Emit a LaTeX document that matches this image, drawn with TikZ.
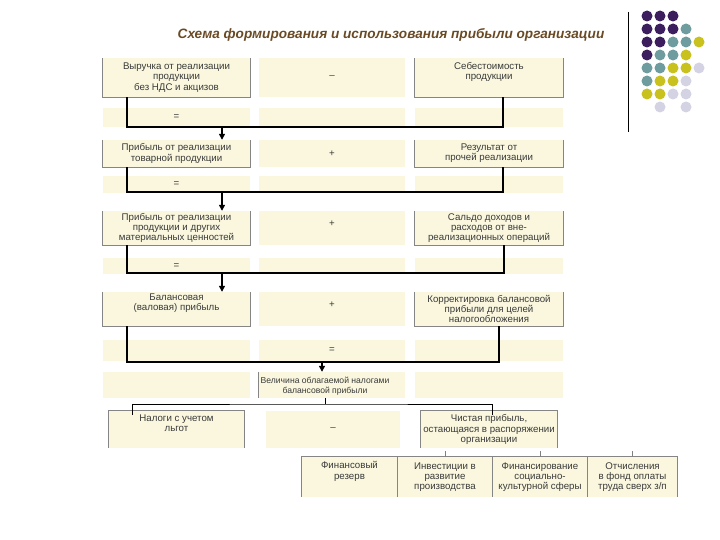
\documentclass[tikz,border=0pt]{standalone}
\usepackage{fontspec}
\setmainfont{Liberation Sans}
\usetikzlibrary{arrows.meta,calc}
\definecolor{cream}{HTML}{FAF7DE}
\definecolor{txtgray}{HTML}{3A3A3A}
\definecolor{edgegray}{HTML}{858585}
\definecolor{titlebrown}{HTML}{6A4A24}
\definecolor{dpurp}{HTML}{3C1E5F}
\definecolor{teal}{HTML}{6F9C9E}
\definecolor{olive}{HTML}{C9C21E}
\definecolor{lav}{HTML}{D3D3E3}

\begin{document}
\begin{tikzpicture}[x=1pt,y=-1pt,>=Stealth,
  cell/.style={fill=cream,inner sep=1pt,align=center,text=txtgray,
    font=\fontsize{9.7}{10.2}\selectfont},
  band/.style={cell,minimum height=#1},
  edge/.style={edgegray,line width=0.8pt},
  conn/.style={black,line width=1.3pt},
  arr/.style={conn,-{Triangle[length=6pt,width=6pt]}},
  thinconn/.style={black,line width=0.9pt},
  tick/.style={gray,line width=0.6pt}]
  \useasboundingbox (0,0) rectangle (720,540);

  % title and corner decoration
  \node[text=titlebrown,font=\fontsize{13.6}{15}\selectfont\bfseries\itshape]
    (ttl) at (391,35) {Схема формирования и использования прибыли организации};
  \draw[line width=1pt] (628,12) -- (628,132);
  \foreach \col/\row/\clr in {1/1/dpurp,2/1/dpurp,3/1/dpurp,
      1/2/dpurp,2/2/dpurp,3/2/dpurp,4/2/teal,
      1/3/dpurp,2/3/dpurp,3/3/teal,4/3/teal,5/3/olive,
      1/4/dpurp,2/4/teal,3/4/teal,4/4/olive,
      1/5/teal,2/5/teal,3/5/olive,4/5/olive,5/5/lav,
      1/6/teal,2/6/olive,3/6/olive,4/6/lav,
      1/7/olive,2/7/olive,3/7/lav,4/7/lav,
      2/8/lav,4/8/lav}
    \fill[\clr] (634+13*\col,3+13*\row) circle (5.5);

  % row 1
  \node[cell,minimum width=147,minimum height=39] (r1a) at (176.5,77.5)
    {Выручка от реализации\\продукции\\без НДС и акцизов};
  \node[cell,minimum width=146,minimum height=39] (r1b) at (332,77.5) {–};
  \node[cell,minimum width=148,minimum height=39] (r1c) at (489,77.5)
    {Себестоимость\\продукции\\\strut};
  \node[band=19,minimum width=147] (e1a) at (176.5,117.5) {=};
  \node[band=19,minimum width=146] (e1b) at (332,117.5) {};
  \node[band=19,minimum width=148] (e1c) at (489,117.5) {};

  % row 2
  \node[cell,minimum width=147,minimum height=27] (r2a) at (176.5,153.5)
    {Прибыль от реализации\\товарной продукции};
  \node[cell,minimum width=146,minimum height=27] (r2b) at (332,153.5) {+};
  \node[cell,minimum width=148,minimum height=27] (r2c) at (489,153.5)
    {Результат от\\прочей реализации};
  \node[band=17,minimum width=147] (e2a) at (176.5,184.5) {=};
  \node[band=17,minimum width=146] (e2b) at (332,184.5) {};
  \node[band=17,minimum width=148] (e2c) at (489,184.5) {};

  % row 3
  \node[cell,minimum width=147,minimum height=34] (r3a) at (176.5,228)
    {Прибыль от реализации\\продукции и других\\материальных ценностей};
  \node[cell,minimum width=146,minimum height=34] (r3b) at (332,228)
    {\raisebox{8pt}{+}};
  \node[cell,minimum width=148,minimum height=34] (r3c) at (489,228)
    {Сальдо доходов и\\расходов от вне-\\реализационных операций};
  \node[band=16,minimum width=147] (e3a) at (176.5,266) {=};
  \node[band=16,minimum width=146] (e3b) at (332,266) {};
  \node[band=16,minimum width=148] (e3c) at (489,266) {};

  % row 4
  \node[cell,minimum width=147,minimum height=34] (r4a) at (176.5,309)
    {Балансовая\\(валовая) прибыль\\\strut};
  \node[cell,minimum width=146,minimum height=34] (r4b) at (332,309)
    {\raisebox{8pt}{+}};
  \node[cell,minimum width=148,minimum height=34] (r4c) at (489,309)
    {Корректировка балансовой\\прибыли для целей\\налогообложения};
  \node[band=21,minimum width=147] (e4a) at (176.5,350.5) {};
  \node[band=21,minimum width=146] (e4b) at (332,350.5) {=};
  \node[band=21,minimum width=148] (e4c) at (489,350.5) {};

  % row 5
  \node[band=26,minimum width=147] (e5a) at (176.5,385) {};
  \node[band=26,minimum width=146] (e5b) at (332,385) {};
  \node[band=26,minimum width=148] (e5c) at (489,385) {};
  \node[cell,fill=none,font=\fontsize{8.6}{10.2}\selectfont] (r5b) at (325,386)
    {Величина облагаемой налогами\\балансовой прибыли};
  \draw[edge] (e5b.north west) -- (e5b.south west);

  % row 6
  \node[cell,minimum width=135,minimum height=37] (r6a) at (176.5,429.5)
    {Налоги с учетом\\льгот\\\strut};
  \node[cell,minimum width=134,minimum height=37] (r6b) at (333,429.5) {–};
  \node[cell,minimum width=136,minimum height=37] (r6c) at (489,429.5)
    {Чистая прибыль,\\остающаяся в распоряжении\\организации};

  % row 7
  \node[cell,minimum width=95,minimum height=40] (r7a) at (349.5,477)
    {Финансовый\\резерв\\\strut};
  \node[cell,minimum width=94,minimum height=40] (r7b) at (445,477)
    {Инвестиции в\\развитие\\производства};
  \node[cell,minimum width=94,minimum height=40] (r7c) at (540,477)
    {Финансирование\\социально-\\культурной сферы};
  \node[cell,minimum width=89,minimum height=40] (r7d) at (632.5,477)
    {Отчисления\\в фонд оплаты\\труда сверх з/п};

  % box borders
  \foreach \n in {r1a,r1c,r2a,r2c,r3a,r3c,r4a,r4c}
    \draw[edge] (\n.north west) |- (\n.south east) -- (\n.north east);
  \foreach \n in {r6a,r6c,r7a,r7b,r7c,r7d}
    \draw[edge] (\n.south west) |- (\n.north east) -- (\n.south east);

  % sums into the next row
  \foreach \i/\yy/\xr/\xa/\src/\oth/\tgt in
      {1/127/503/222/r1a/r1c/r2a, 2/192/503/222/r2a/r2c/r3a,
       3/273/504/222/r3a/r3c/r4a, 4/362/499/322/r4a/r4c/e5b} {
    \coordinate (l\i) at (127,\yy);
    \coordinate (q\i) at (\xr,\yy);
    \coordinate (k\i) at (\xa,\yy);
    \draw[conn] (l\i |- \src.south) -- (l\i) -- (q\i) -- (q\i |- \oth.south);
    \draw[arr] (k\i) -- (k\i |- \tgt.north);
  }

  % split of the taxable profit
  \coordinate (s6) at (325,404);
  \coordinate (d6a) at (132,415);
  \coordinate (d6c) at (492,415);
  \draw[thinconn] (s6 |- e5b.south) -- (s6);
  \draw[thinconn] (d6a) |- (s6) -| (d6c);

  % net profit use
  \foreach \n in {r7b,r7c,r7d}
    \draw[tick] (\n.north) -- ++(0,-6);
\end{tikzpicture}
\end{document}
